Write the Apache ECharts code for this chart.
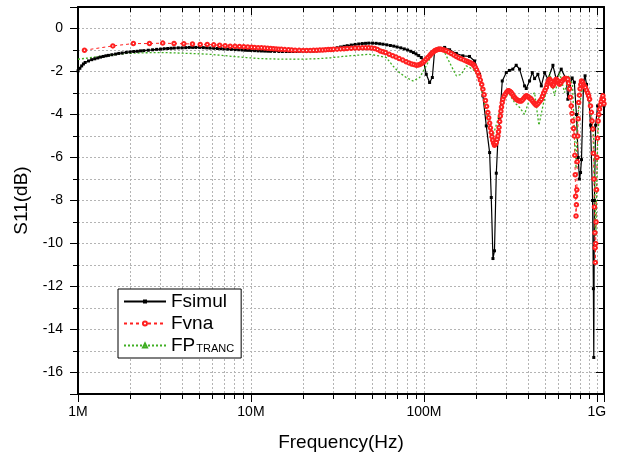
<!DOCTYPE html>
<html>
<head>
<meta charset="utf-8">
<script src="https://cdn.jsdelivr.net/npm/echarts@6/dist/echarts.min.js"></script>
<style>
html,body{margin:0;padding:0;background:#fff;}
#chart{width:618px;height:460px;}
</style>
</head>
<body>
<div id="chart"></div>
<script>
// ---- data (frequency in MHz, S11 in dB) ----
const xTickLabels = {6: '1M', 7: '10M', 8: '100M', 9: '1G'};
const seriesNames = ['Fsimul', 'Fvna', 'FPTRANC'];

const fsimulFreq = [1,1.05,1.1,1.2,1.3,1.4,1.5,1.65,1.8,2,2.2,2.4,2.7,3,3.3,3.6,4,4.4,4.8,5.3,5.8,6.4,7,7.7,8.5,9.3,10,11,12,13,14.5,16,17.5,19,21,23,25,27.5,30,33,36,40,44,48,53,58,64,70,77,84,90,96.6,100,103.2,107.9,111.9,115.3,123.3,131.8,140.8,154,168,183.5,196.3,209.8,219.4,229.5,239.9,245.2,250.8,255.9,262.2,268,274.2,283.9,299.4,312,326.6,341.7,357.4,381.9,390.6,408.3,423.4,436.5,456.1,477.5,499,521.5,557.3,582.4,622.3,665.1,679.6,695.3,720,741,762,780,793,805,815,838,855,872,900,920,945,955,960,968,984,1010,1037,1065,1100];
const fsimulDb = [-1.97,-1.74,-1.58,-1.45,-1.37,-1.30,-1.25,-1.19,-1.14,-1.09,-1.06,-1.03,-0.99,-0.96,-0.93,-0.91,-0.90,-0.88,-0.88,-0.89,-0.91,-0.93,-0.95,-0.97,-0.99,-1.01,-1.02,-1.04,-1.05,-1.06,-1.07,-1.07,-1.07,-1.07,-1.06,-1.05,-1.03,-0.98,-0.93,-0.86,-0.80,-0.74,-0.70,-0.68,-0.69,-0.73,-0.79,-0.86,-0.95,-1.06,-1.18,-1.35,-1.6,-2.13,-2.51,-2.28,-1.04,-0.92,-0.88,-0.99,-1.16,-1.27,-1.30,-1.51,-2.13,-3.13,-4.53,-5.77,-7.86,-10.7,-10.34,-6.73,-5.15,-4.22,-2.44,-2.05,-1.95,-1.89,-1.71,-1.89,-2.67,-2.79,-2.44,-2.05,-2.33,-2.13,-2.67,-2.05,-2.36,-1.71,-2.36,-1.89,-2.36,-3.29,-2.67,-2.3,-2.5,-4.0,-6.0,-7.0,-6.7,-6.1,-2.44,-2.2,-2.6,-3.3,-4.5,-8.0,-12.1,-15.3,-8.0,-4.5,-3.6,-3.75,-3.3,-3.6];
// second set of readings of the same curve (denser sweep, 1–100 MHz)
const fsimulFreq2 = [1.025,1.075,1.15,1.25,1.35,1.45,1.57,1.72,1.9,2.1,2.3,2.55,2.85,3.15,3.45,3.8,4.2,4.6,5.05,5.55,6.1,6.7,7.35,8.1,8.9,9.65,10.5,11.5,12.5,13.7,15.2,16.7,18.2,20,22,24,26.2,28.7,31.5,34.5,38,42,46,50.5,55.5,61,67,73.5,80.5,87,93.3];
const fsimulDb2 = [-1.85,-1.65,-1.51,-1.41,-1.33,-1.27,-1.22,-1.16,-1.11,-1.07,-1.04,-1.01,-0.97,-0.94,-0.92,-0.90,-0.89,-0.88,-0.88,-0.90,-0.92,-0.94,-0.96,-0.98,-1.00,-1.015,-1.03,-1.045,-1.055,-1.065,-1.07,-1.07,-1.07,-1.065,-1.055,-1.04,-1.005,-0.955,-0.895,-0.83,-0.77,-0.72,-0.69,-0.68,-0.71,-0.76,-0.82,-0.90,-1.0,-1.12,-1.26];

const fvnaFreq = [1.09,1.59,2.09,2.59,3.09,3.59,4.09,4.59,5.09,5.59,6.09,6.59,7.09,7.59,8.09,8.59,9.09,9.59,10.09,11,12,13,14,15,16.5,18,20,22,24,26,28,30,33,36,40,44,48,52,56,60,66,72,79,85,90.4,95,98.7,103,107.9,111.5,115.3,119,123.3,129,134.8,144,154,164,175.8,184,191.9,198,205.1,212,219.4,227,234.4,240,245.2,250,255.9,262,268,272,276.7,281,286.4,296,306.2,313,320.1,330,341.7,353,365.7,378,390.6,404,417.6,432,446.3,461,477.5,493,510.5,522,533.4,545,557.3,570,582.4,595,608.6,629,650.6,665,679.6,695,711,726,741,750,758,766,775,785,800,815,837,859,885,908,930,948,962,975,980,990,1002,1018,1037,1060,1084,1100];
const fvnaDb = [-1.01,-0.81,-0.70,-0.70,-0.68,-0.70,-0.71,-0.72,-0.74,-0.74,-0.76,-0.78,-0.80,-0.82,-0.83,-0.84,-0.85,-0.86,-0.87,-0.89,-0.91,-0.93,-0.95,-0.97,-0.99,-1.01,-1.02,-1.02,-1.01,-1.00,-0.98,-0.97,-0.95,-0.93,-0.91,-0.90,-0.90,-0.93,-1.05,-1.12,-1.27,-1.40,-1.55,-1.65,-1.71,-1.67,-1.58,-1.43,-1.27,-1.14,-1.04,-0.99,-0.96,-0.99,-1.04,-1.16,-1.30,-1.41,-1.51,-1.58,-1.66,-1.80,-2.05,-2.4,-2.82,-3.35,-3.91,-4.4,-4.84,-5.2,-5.43,-5.3,-5.0,-4.6,-4.07,-3.65,-3.29,-3.05,-2.90,-2.92,-2.98,-3.15,-3.29,-3.36,-3.37,-3.25,-3.13,-3.2,-3.29,-3.45,-3.57,-3.45,-3.29,-3.0,-2.74,-2.5,-2.36,-2.5,-2.67,-2.5,-2.36,-2.45,-2.59,-2.45,-2.33,-2.33,-2.36,-2.8,-3.60,-4.3,-5.0,-6.8,-8.72,-7.5,-5.0,-3.44,-2.8,-2.44,-2.6,-2.74,-3.0,-3.29,-3.9,-4.68,-7.0,-9.5,-10.88,-9.0,-6.0,-4.3,-3.75,-3.4,-3.13,-3.5];
// second set of readings of the same curve (the VNA sweep is dense above 10 MHz)
const fvnaFreq2 = [10.5,11.5,12.5,13.5,14.5,15.7,17.2,19,21,23,25,27,29,31.5,34.5,38,42,46,50,54,58,63,69,75.5,82,87.7,92.7,96.8,100.8,105.4,109.7,113.4,117.1,121.1,126,132,139,149,159,170,180,188,195,201.5,208.5,216,223,230.5,237,242.5,247.5,253,259,265,270,274.3,278.8,283.7,291,301,309.6,316.5,325,335.8,347.3,359.3,371.8,384.2,397.3,410.7,424.7,439,453.6,469,485,501.7,516,527.7,539,551,563.6,576,588.7,601.7,618.7,639.7,657.7,672.3,687.3,703,718.5,733.5,745.5,754,762,770.5,780,792.5,807.5,826,848,872,896.5,919,939,955,968.5,977.5,985,996,1010,1027.5,1048.5,1072,1092];
const fvnaDb2 = [-0.88,-0.90,-0.92,-0.94,-0.96,-0.98,-1.00,-1.015,-1.02,-1.015,-1.005,-0.99,-0.975,-0.96,-0.94,-0.92,-0.905,-0.90,-0.91,-0.98,-1.08,-1.2,-1.33,-1.47,-1.60,-1.68,-1.70,-1.63,-1.51,-1.35,-1.20,-1.09,-1.01,-0.97,-0.97,-1.01,-1.09,-1.23,-1.36,-1.46,-1.55,-1.62,-1.72,-1.92,-2.22,-2.6,-3.08,-3.62,-4.15,-4.62,-5.03,-5.33,-5.38,-5.15,-4.8,-4.33,-3.85,-3.45,-3.15,-2.96,-2.90,-2.95,-3.06,-3.22,-3.33,-3.37,-3.32,-3.18,-3.15,-3.25,-3.37,-3.52,-3.52,-3.37,-3.15,-2.87,-2.6,-2.42,-2.42,-2.6,-2.6,-2.42,-2.4,-2.53,-2.53,-2.38,-2.33,-2.34,-2.55,-3.2,-3.95,-4.65,-5.9,-7.8,-8.2,-6.2,-4.2,-3.1,-2.6,-2.5,-2.68,-2.87,-3.13,-3.6,-4.3,-5.8,-8.3,-10.2,-10.0,-7.5,-5.1,-4.0,-3.55,-3.25,-3.3];

const fptrancFreq = [1,1.15,1.335,1.6,1.905,2.4,2.97,3.5,4.04,4.8,5.77,6.8,7.87,9.4,11.2,14,17.5,21,24.9,29,34,40,48.5,55.5,60.6,66.2,72,79.1,86.4,94.5,103.2,112.7,120.5,131.8,144,154,164.6,175.8,191.9,205.1,219.4,234.4,250.8,268,280,292.6,312.7,334.2,357.4,381.9,408.3,436.5,462.3,487.7,510.5,533.4,569.3,608.6,650.6,689,723,758,775,830,908,958,986,1012,1050,1100];
const fptrancDb = [-1.43,-1.37,-1.30,-1.23,-1.16,-1.13,-1.12,-1.13,-1.15,-1.17,-1.20,-1.25,-1.30,-1.35,-1.40,-1.42,-1.43,-1.42,-1.40,-1.36,-1.30,-1.25,-1.20,-1.28,-1.35,-1.74,-2.05,-2.28,-2.44,-2.28,-1.74,-1.12,-0.93,-1.12,-1.74,-2.20,-2.13,-1.74,-1.89,-2.20,-3.13,-4.22,-5.0,-4.22,-3.44,-3.21,-3.06,-3.44,-3.67,-3.99,-3.29,-2.98,-4.5,-3.60,-2.90,-2.05,-3.13,-2.05,-2.98,-2.20,-2.6,-6.5,-4.0,-2.67,-3.44,-5.0,-9.65,-5.0,-3.3,-3.5];

function pairs(fs, ds) { return fs.map((f, i) => [f * 1e6, ds[i]]); }
function merged(fa, da, fb, db) {
  return pairs(fa, da).concat(pairs(fb, db)).sort((a, b) => a[0] - b[0]);
}

const FONT = "'Liberation Sans', Arial, sans-serif";
const gridLine = {show: true, lineStyle: {color: '#b4b4b4', width: 1, type: [2, 2]}};

const chart = echarts.init(document.getElementById('chart'), null, {renderer: 'canvas'});

function xAxisCfg(pos) {
  const bottom = pos === 'bottom';
  return {
    type: 'log', logBase: 10, min: 1e6, max: 1.1e9, position: pos,
    axisLine: {show: true, onZero: false, lineStyle: {color: '#000', width: 2}},
    axisTick: {show: true, inside: !bottom, length: 8, lineStyle: {color: '#000', width: 1}},
    minorTick: {show: true, splitNumber: 9, length: 5, lineStyle: {color: '#000', width: 1}},
    axisLabel: {
      show: bottom, margin: 11, color: '#000', fontSize: 14, fontFamily: FONT,
      formatter: function (v) {
        const e = Math.log10(v);
        const r = Math.round(e);
        if (Math.abs(e - r) < 1e-6 && xTickLabels[r]) return xTickLabels[r];
        return '';
      }
    },
    splitLine: bottom ? gridLine : {show: false},
    minorSplitLine: bottom ? gridLine : {show: false},
    name: bottom ? 'Frequency(Hz)' : '',
    nameLocation: 'middle', nameGap: 39,
    nameTextStyle: {fontSize: 19, fontFamily: FONT, color: '#000'}
  };
}

function yAxisCfg(pos) {
  const left = pos === 'left';
  return {
    type: 'value', min: -17, max: 1, splitNumber: 9, position: pos,
    axisLine: {show: true, onZero: false, lineStyle: {color: '#000', width: 2}},
    axisTick: {show: true, inside: !left, length: 8, lineStyle: {color: '#000', width: 1}},
    minorTick: {show: true, splitNumber: 2, length: 5, lineStyle: {color: '#000', width: 1}},
    axisLabel: {
      show: left, margin: 15, color: '#000', fontSize: 14, fontFamily: FONT,
      formatter: function (v) {
        const r = Math.round(v);
        if (Math.abs(v - r) < 1e-6 && r % 2 === 0) return String(r);
        return '';
      }
    },
    splitLine: left ? gridLine : {show: false},
    minorSplitLine: left ? gridLine : {show: false},
    name: left ? 'S11(dB)' : '',
    nameLocation: 'middle', nameGap: 47, nameRotate: 90,
    nameTextStyle: {fontSize: 19, fontFamily: FONT, color: '#000'}
  };
}

const option = {
  animation: false,
  backgroundColor: '#fff',
  grid: {left: 78, right: 14, top: 7, bottom: 66, containLabel: false},
  xAxis: [xAxisCfg('bottom'), xAxisCfg('top')],
  yAxis: [yAxisCfg('left'), yAxisCfg('right')],
  legend: {
    orient: 'vertical', left: 118, top: 289,
    backgroundColor: '#fff', borderColor: '#000', borderWidth: 1,
    padding: [3, 7, 3, 5], itemWidth: 42, itemHeight: 5, itemGap: 3,
    textStyle: {
      fontSize: 19, fontFamily: FONT, color: '#000',
      rich: {
        big: {fontSize: 19, fontFamily: FONT, color: '#000'},
        small: {fontSize: 11, fontFamily: FONT, color: '#000', padding: [6, 0, 0, 1]}
      }
    },
    formatter: function (name) {
      if (name === 'FPTRANC') return '{big|FP}{small|TRANC}';
      return name;
    },
    data: seriesNames
  },
  series: [
    {
      name: seriesNames[0], type: 'line', xAxisIndex: 0, yAxisIndex: 0,
      data: merged(fsimulFreq, fsimulDb, fsimulFreq2, fsimulDb2),
      symbol: 'rect', symbolSize: 3, showSymbol: true, showAllSymbol: true,
      lineStyle: {color: '#000', width: 1.2},
      itemStyle: {color: '#000'}
    },
    {
      name: seriesNames[1], type: 'line', xAxisIndex: 0, yAxisIndex: 0,
      data: merged(fvnaFreq, fvnaDb, fvnaFreq2, fvnaDb2),
      symbol: 'emptyCircle', symbolSize: 3.5, showSymbol: true, showAllSymbol: true,
      lineStyle: {color: '#ff2020', width: 1, type: [3, 3]},
      itemStyle: {color: '#ff2020', borderColor: '#ff2020', borderWidth: 1}
    },
    {
      name: seriesNames[2], type: 'line', xAxisIndex: 0, yAxisIndex: 0,
      data: pairs(fptrancFreq, fptrancDb),
      symbol: 'emptyTriangle', symbolSize: 4, showSymbol: false,
      lineStyle: {color: '#3fae22', width: 1.3, type: [2, 2]},
      itemStyle: {color: '#3fae22', borderColor: '#3fae22', borderWidth: 1}
    }
  ]
};
chart.setOption(option);
</script>
</body>
</html>
